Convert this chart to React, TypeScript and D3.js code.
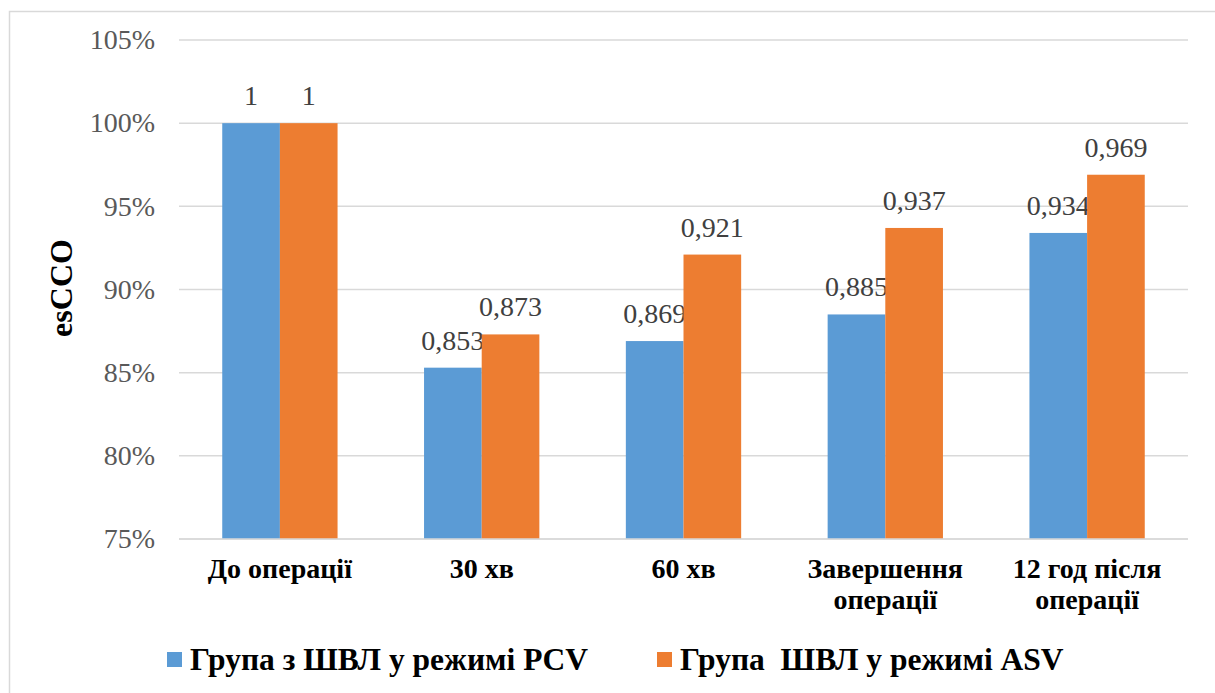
import React from "react";
import * as d3 from "d3";

const categories: string[][] = [
  ["До операції"],
  ["30 хв"],
  ["60 хв"],
  ["Завершення", "операції"],
  ["12 год після", "операції"],
];
const seriesNames = ["Група з ШВЛ у режимі PCV", "Група  ШВЛ у режимі ASV"];
const pcvValues = [1, 0.853, 0.869, 0.885, 0.934];
const asvValues = [1, 0.873, 0.921, 0.937, 0.969];
const yTicks = [0.75, 0.8, 0.85, 0.9, 0.95, 1.0, 1.05];
const colors = ["#5b9bd5", "#ed7d31"];

const W = 1215;
const H = 693;
const FONT = "'Liberation Serif', 'DejaVu Serif', serif";

export default function App() {
  const x0 = 179;
  const x1 = 1188;
  const yTop = 40;
  const yBot = 539;

  const x = d3.scaleBand<number>().domain(d3.range(categories.length)).range([x0, x1]);
  const band = x.bandwidth();
  const barW = band / 3.5;
  const y = d3.scaleLinear().domain([0.75, 1.05]).range([yBot, yTop]);
  const fmtTick = (v: number) => `${Math.round(v * 100)}%`;
  const fmtLabel = (v: number) => String(v).replace(".", ",");
  const series = [pcvValues, asvValues];

  return (
    <svg
      width={W}
      height={H}
      style={{ position: "absolute", left: 0, top: 0, fontFamily: FONT }}
    >
      <rect x={0} y={0} width={W} height={H} fill="#fff" />
      <rect x={9.5} y={11.5} width={W + 20} height={H + 20} fill="none" stroke="#d9d9d9" strokeWidth={1.5} />
      {yTicks.map((t) => (
        <g key={t}>
          <line x1={x0} x2={x1} y1={y(t)} y2={y(t)} stroke="#d9d9d9" strokeWidth={1.5} />
          <text
            x={155}
            y={y(t)}
            dy="0.33em"
            textAnchor="end"
            style={{ fontFamily: FONT, fontSize: 28 }}
            fill="#595959"
          >
            {fmtTick(t)}
          </text>
        </g>
      ))}
      {categories.map((c, i) => {
        const bandStart = x(i) as number;
        return (
          <g key={i}>
            {series.map((vals, s) => {
              const bx = bandStart + barW * 0.75 + s * barW;
              const by = y(vals[i]);
              return (
                <g key={s}>
                  <rect x={bx} y={by} width={barW} height={yBot - by} fill={colors[s]} />
                  <text
                    x={bx + barW / 2}
                    y={by - 18}
                    textAnchor="middle"
                    style={{ fontFamily: FONT, fontSize: 28 }}
                    fill="#404040"
                  >
                    {fmtLabel(vals[i])}
                  </text>
                </g>
              );
            })}
            {c.map((line, li) => (
              <text
                key={li}
                x={bandStart + band / 2}
                y={578 + li * 31}
                textAnchor="middle"
                style={{ fontFamily: FONT, fontSize: 28, fontWeight: "bold" }}
                fill="#000"
              >
                {line}
              </text>
            ))}
          </g>
        );
      })}
      <line x1={x0} x2={x1} y1={yBot} y2={yBot} stroke="#d9d9d9" strokeWidth={1.5} />
      <text
        transform={`translate(72, 288) rotate(-90)`}
        textAnchor="middle"
        style={{ fontFamily: FONT, fontSize: 32, fontWeight: "bold" }}
        fill="#000"
      >
        esCCO
      </text>
      {seriesNames.map((name, i) => {
        const lx = i === 0 ? 167 : 657;
        return (
          <g key={i}>
            <rect x={lx} y={652} width={15} height={15} fill={colors[i]} />
            <text
              x={lx + 23}
              y={670}
              style={{ fontFamily: FONT, fontSize: 31.5, fontWeight: "bold", whiteSpace: "pre" }}
              fill="#000"
            >
              {name}
            </text>
          </g>
        );
      })}
    </svg>
  );
}
